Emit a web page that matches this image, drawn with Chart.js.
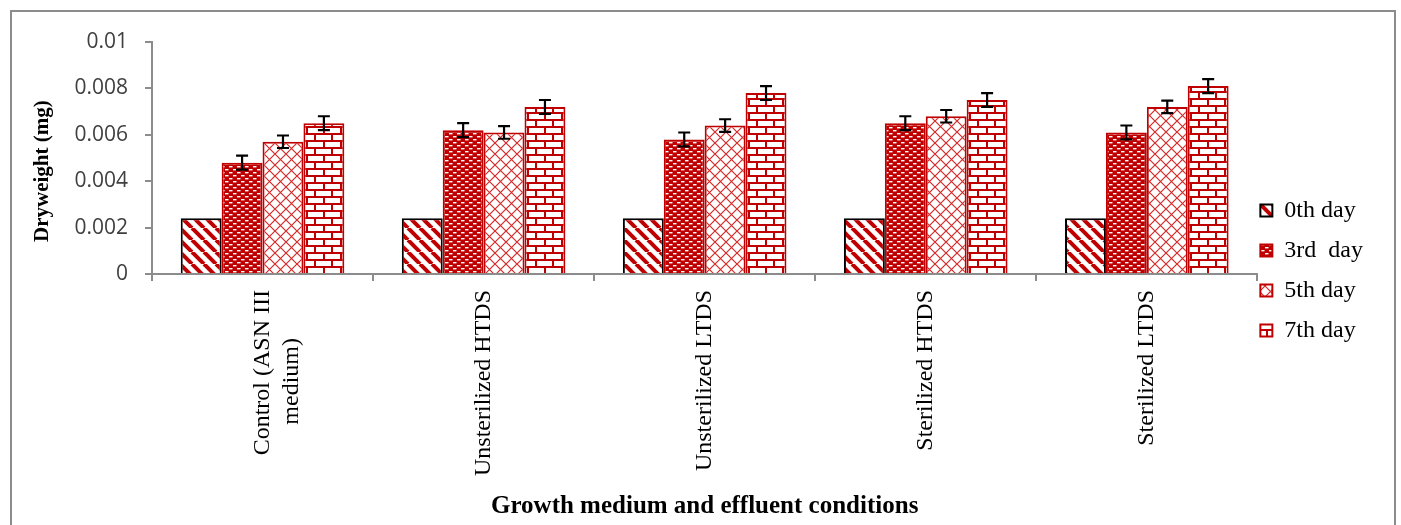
<!DOCTYPE html>
<html>
<head>
<meta charset="utf-8">
<script src="https://cdn.jsdelivr.net/npm/chart.js@4.4.1/dist/chart.umd.min.js"></script>
<style>
  html, body { margin: 0; padding: 0; background: #fff; }
  #wrap { position: relative; width: 1401px; height: 525px; }
</style>
</head>
<body>
<div id="wrap"><canvas id="c"></canvas></div>
<script>
// Data (dry weight in mg per day of culture)
const categories = [['Control (ASN III', 'medium)        '], 'Unsterilized HTDS', 'Unsterilized LTDS', 'Sterilized HTDS', 'Sterilized LTDS'];
const seriesNames = ['0th day', '3rd  day', '5th day', '7th day'];
const day0 = [0.0024, 0.0024, 0.0024, 0.0024, 0.0024];
const day3 = [0.0048, 0.0062, 0.0058, 0.0065, 0.0061];
const day5 = [0.0057, 0.0061, 0.0064, 0.0068, 0.0072];
const day7 = [0.0065, 0.0072, 0.0078, 0.0075, 0.0081];
const err0 = null;
const err3 = [0.0003, 0.0003, 0.0003, 0.0003, 0.0003];
const err5 = [0.00027, 0.00027, 0.00027, 0.00027, 0.00027];
const err7 = [0.0003, 0.0003, 0.0003, 0.0003, 0.0003];
const yTicks = [0, 0.002, 0.004, 0.006, 0.008, 0.01];
const yTickLabels = ['0', '0.002', '0.004', '0.006', '0.008', '0.01'];

const RED = '#c00000';
const AXIS = '#8c8c8c';
const SERIF = '"Liberation Serif", "Times New Roman", serif';
const SANS = '"Open Sans", "Liberation Sans", sans-serif';

const canvas = document.getElementById('c');
const ctx0 = canvas.getContext('2d');

// fill patterns like the Excel hatch fills
function tile(w, h, draw) {
    const c = document.createElement('canvas');
    c.width = w;
    c.height = h;
    draw(c.getContext('2d'), w, h);
    return ctx0.createPattern(c, 'repeat');
}

const stripes = tile(12, 12, (g, w, h) => {
    g.fillStyle = '#fff';
    g.fillRect(0, 0, w, h);
    g.strokeStyle = RED;
    g.lineWidth = 4;
    [-12, 0, 12].forEach((x0) => {
        g.beginPath();
        g.moveTo(x0, 0);
        g.lineTo(x0 + 12, 12);
        g.stroke();
    });
});

const dashes = tile(8, 6, (g, w, h) => {
    g.fillStyle = RED;
    g.fillRect(0, 0, w, h);
    g.fillStyle = '#fff';
    g.fillRect(1, 1, 3.5, 1.4);
    g.fillRect(5, 4, 3, 1.4);
    g.fillRect(0, 4, 0.5, 1.4);
});

const lattice = tile(11, 11, (g, w, h) => {
    g.fillStyle = '#fff';
    g.fillRect(0, 0, w, h);
    g.strokeStyle = '#d42a2a';
    g.lineWidth = 1.2;
    g.beginPath();
    g.moveTo(0, 0); g.lineTo(11, 11);
    g.moveTo(11, 0); g.lineTo(0, 11);
    g.stroke();
});

const bricks = tile(17, 14, (g, w, h) => {
    g.fillStyle = '#fff';
    g.fillRect(0, 0, w, h);
    g.fillStyle = RED;
    g.fillRect(0, 0, w, 2);
    g.fillRect(0, 7, w, 2);
    g.fillRect(0, 0, 2, 7);
    g.fillRect(8, 7, 2, 7);
});

const errors = [err0, err3, err5, err7];

const errorBars = {
    id: 'errorBars',
    afterDatasetsDraw(chart) {
        const { ctx } = chart;
        const y = chart.scales.y;
        ctx.save();
        ctx.strokeStyle = '#000';
        ctx.lineWidth = 2.2;
        chart.data.datasets.forEach((ds, di) => {
            const err = errors[di];
            if (!err) return;
            chart.getDatasetMeta(di).data.forEach((bar, i) => {
                const v = ds.data[i];
                const hi = y.getPixelForValue(v + err[i]);
                const lo = y.getPixelForValue(v - err[i]);
                ctx.beginPath();
                ctx.moveTo(bar.x, hi); ctx.lineTo(bar.x, lo);
                ctx.moveTo(bar.x - 6, hi); ctx.lineTo(bar.x + 6, hi);
                ctx.moveTo(bar.x - 6, lo); ctx.lineTo(bar.x + 6, lo);
                ctx.stroke();
            });
        });
        ctx.restore();
    },
};

// grey frame round the whole chart
const frame = {
    id: 'frame',
    beforeDraw(chart) {
        const { ctx } = chart;
        ctx.save();
        ctx.strokeStyle = AXIS;
        ctx.lineWidth = 2;
        ctx.strokeRect(11, 11, 1384, 560);
        ctx.restore();
    },
};

// legend sits tight against the plot, a little above centre
const legendShift = {
    id: 'legendShift',
    afterLayout(chart) {
        const lg = chart.legend;
        lg.left -= 13; lg.right -= 13;
        lg.top -= 13; lg.bottom -= 13;
    },
};

new Chart(canvas, {
    type: 'bar',
    data: {
        labels: categories,
        datasets: [
            { label: seriesNames[0], data: day0, backgroundColor: stripes, borderColor: '#000', borderWidth: 2 },
            { label: seriesNames[1], data: day3, backgroundColor: dashes, borderColor: RED, borderWidth: 2 },
            { label: seriesNames[2], data: day5, backgroundColor: lattice, borderColor: RED, borderWidth: 2 },
            { label: seriesNames[3], data: day7, backgroundColor: bricks, borderColor: RED, borderWidth: 2 },
        ],
    },
    options: {
        responsive: true,
        maintainAspectRatio: false,
        animation: false,
        datasets: { bar: { categoryPercentage: 0.74, barPercentage: 1.0 } },
        layout: { padding: { top: 42, left: 25, right: 15, bottom: 0 } },
        plugins: {
            tooltip: { enabled: false },
            legend: {
                position: 'right',
                labels: { boxWidth: 12, boxHeight: 12, padding: 16, color: '#000', font: { family: SERIF, size: 24 } },
            },
        },
        scales: {
            x: {
                afterFit: (s) => { s.height = 251; },
                grid: { display: true, drawOnChartArea: false, drawTicks: true, tickLength: 7, color: AXIS, lineWidth: 2, offset: true },
                border: { display: true, color: AXIS, width: 2 },
                ticks: { autoSkip: false, minRotation: 90, maxRotation: 90, padding: 9, color: '#000', font: { family: SERIF, size: 24 } },
                title: {
                    display: true,
                    text: 'Growth medium and effluent conditions',
                    color: '#000',
                    font: { family: SERIF, size: 25, weight: 'bold' },
                    padding: { top: 0, bottom: 3 },
                },
            },
            y: {
                min: 0,
                max: 0.01,
                afterFit: (s) => { s.width = 127; },
                afterBuildTicks: (s) => { s.ticks = yTicks.map((v) => ({ value: v })); },
                grid: { drawOnChartArea: false, drawTicks: true, tickLength: 7, color: AXIS, lineWidth: 2 },
                border: { display: true, color: AXIS, width: 2 },
                ticks: { padding: 17, color: '#404040', font: { family: SANS, size: 21 }, callback: (v, i) => yTickLabels[i] },
                title: {
                    display: true,
                    text: 'Dryweight (mg)     ',
                    color: '#000',
                    font: { family: SERIF, size: 21, weight: 'bold' },
                    padding: { top: 5, bottom: 0 },
                },
            },
        },
    },
    plugins: [errorBars, frame, legendShift],
});
</script>
</body>
</html>
